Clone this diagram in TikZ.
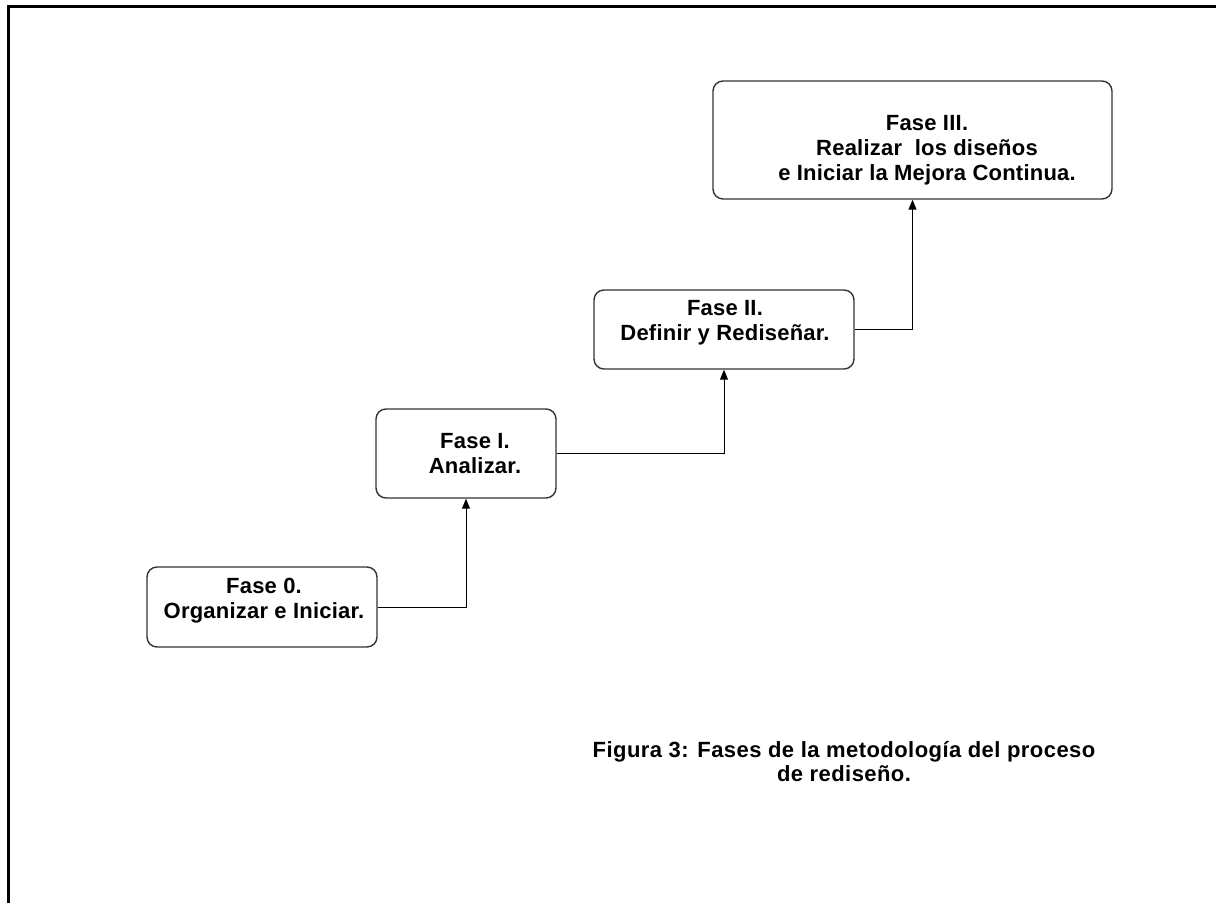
\documentclass[tikz,border=0pt]{standalone}
\usepackage{fontspec}
\setmainfont{Liberation Sans}
\usetikzlibrary{arrows.meta}
\begin{document}
\begin{tikzpicture}[x=1pt,y=-1pt,
  box/.style={draw=black!80, line width=1.4pt, rounded corners=10pt, inner sep=0pt},
  txt/.style={font=\fontsize{22}{25}\selectfont\bfseries\addfontfeature{LetterSpace=1}, align=center, inner sep=0pt, anchor=base},
  captxt/.style={font=\fontsize{22}{24}\selectfont\bfseries\addfontfeature{LetterSpace=2}, align=center, inner sep=0pt, anchor=base},
  arr/.style={draw=black, line width=1pt, -{Triangle[length=10pt,width=8pt]}}]
\useasboundingbox (0,0) rectangle (1216,903);
\draw[line width=3pt] (8.5,903) -- (8.5,6.5) -- (1216,6.5);
% boxes
\node[box, minimum width=230, minimum height=80] (f0) at (262,607) {};
\node[box, minimum width=180, minimum height=89] (f1) at (466,453.5) {};
\node[box, minimum width=260, minimum height=79] (f2) at (724,329.5) {};
\node[box, minimum width=399, minimum height=118] (f3) at (912.5,140) {};
% texts (anchor base = baseline of last line)
\node[txt] (t0) at (264,618) {Fase 0.\\Organizar e Iniciar.};
\node[txt] (t1) at (475,473) {Fase I.\\Analizar.};
\node[txt] (t2) at (725,340) {Fase II.\\Definir y Rediseñar.};
\node[txt] (t3) at (927,180) {Fase III.\\Realizar\ \ los diseños\\e Iniciar la Mejora Continua.};
\node[captxt] (c) at (844,781) {Figura 3: Fases de la metodología del proceso\\de rediseño.};
% connectors
\draw[arr] (f0.east) -| (f1.south);
\draw[arr] (f1.east) -| (f2.south);
\draw[arr] (f2.east) -| (f3.south);
\end{tikzpicture}
\end{document}
